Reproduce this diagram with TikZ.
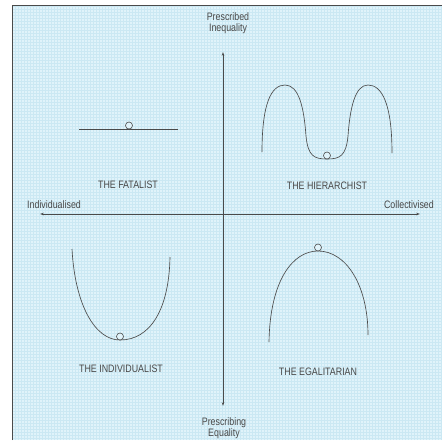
\documentclass[tikz,border=0pt]{standalone}
\usepackage{fontspec}
\setmainfont[FakeStretch=0.82]{Liberation Sans}
\usetikzlibrary{arrows.meta}
\definecolor{paper}{HTML}{E0F3FA}
\definecolor{gridc}{HTML}{CBE8F3}
\definecolor{ink}{HTML}{4A4A4A}
\definecolor{txt}{HTML}{484848}
\tikzset{
  axis/.style={draw=ink, line width=0.7pt, {Stealth[length=4pt,width=2.6pt]}-{Stealth[length=4pt,width=2.6pt]}},
  curve/.style={draw=ink, line width=0.65pt},
  ball/.style={circle, draw=ink, fill=paper, line width=0.6pt, minimum size=7pt, inner sep=0pt},
  lbl/.style={text=txt, font=\fontsize{10.8}{12}\selectfont, inner sep=0pt},
  axlbl/.style={text=txt, font=\fontsize{10.8}{11}\selectfont, inner sep=0pt, align=center}
}
\begin{document}
\begin{tikzpicture}[x=1pt,y=-1pt]
\useasboundingbox (0,0) rectangle (442,440);
\fill[white] (0,0) rectangle (442,440);
\fill[paper] (12,5) rectangle (442,440);
\draw[gridc, line width=0.15pt, step=3pt] (12,5) grid (442,440);
\draw[ink, line width=0.8pt] (12,440) -- (12,5) -- (442,5);

% axes
\coordinate (top) at (223,52);
\coordinate (bot) at (223,406);
\coordinate (lft) at (40,214);
\coordinate (rgt) at (420,214);
\draw[axis] (bot) -- (top);
\draw[axis] (lft) -- (rgt);

\node[axlbl] (pi) at (228,23) {Prescribed\\Inequality};
\node[axlbl] (pe) at (224,428) {Prescribing\\Equality};
\node[axlbl, anchor=west] (ind) at (27,205) {Individualised};
\node[axlbl, anchor=east] (col) at (434,205) {Collectivised};

% fatalist
\coordinate (f1) at (79,129);
\coordinate (f2) at (178,129);
\draw[curve] (f1) -- (f2);
\node[ball] (bf) at (129,125.5) {};
\node[lbl] (lf) at (128,185) {THE FATALIST};

% hierarchist
\draw[curve] (262,152) .. controls (262,104) and (271,85) .. (285,85)
  .. controls (299,85) and (304,108) .. (306,136)
  .. controls (308,156) and (314,159) .. (327,159)
  .. controls (340,159) and (346,156) .. (348,136)
  .. controls (350,108) and (355,85) .. (368,85)
  .. controls (382,85) and (392,104) .. (392,153);
\node[ball] (bh) at (327,155.5) {};
\node[lbl] (lh) at (327,186) {THE HIERARCHIST};

% individualist
\draw[curve] (72,249) .. controls (75,305) and (95,340) .. (120,340)
  .. controls (150,340) and (169,310) .. (170,257);
\node[ball] (bi) at (120,336.5) {};
\node[lbl] (li) at (121,369) {THE INDIVIDUALIST};

% egalitarian
\draw[curve] (269,342) .. controls (270,280) and (293,251) .. (318,251)
  .. controls (346,251) and (368,285) .. (368,335);
\node[ball] (be) at (318,247.5) {};
\node[lbl] (le) at (318,372) {THE EGALITARIAN};
\end{tikzpicture}
\end{document}
